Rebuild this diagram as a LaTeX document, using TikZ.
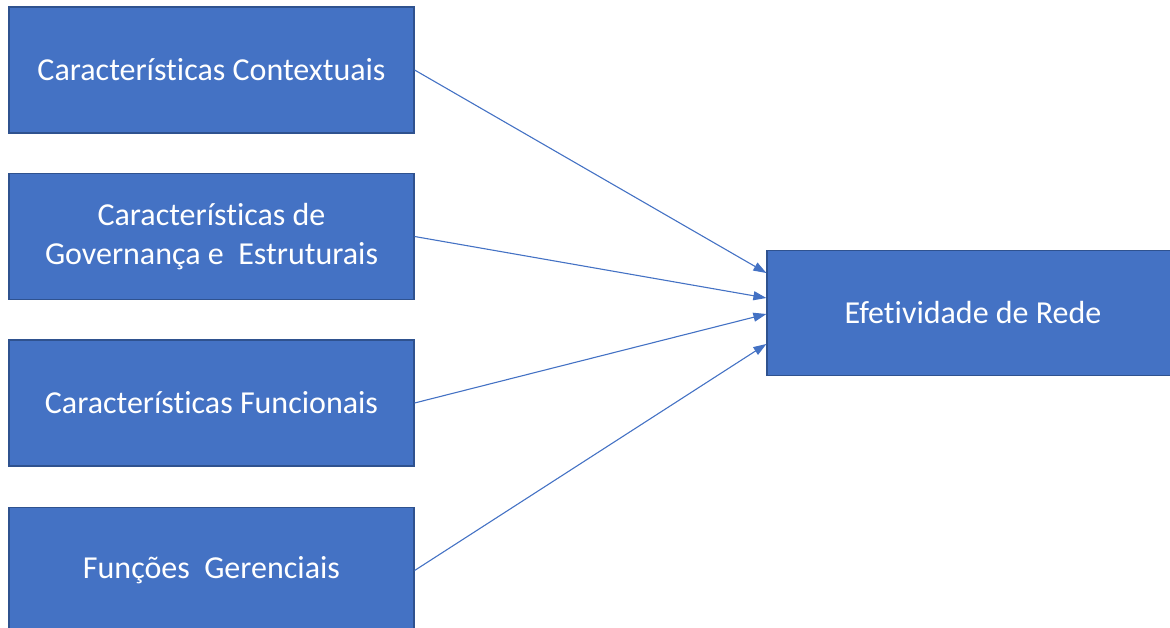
\documentclass[tikz,border=0pt]{standalone}
\usepackage{fontspec}
\setmainfont{Carlito}[Ligatures=NoCommon]
\usetikzlibrary{arrows.meta}
\definecolor{boxfill}{HTML}{4472C4}
\definecolor{boxline}{HTML}{2F528F}
\begin{document}
\begin{tikzpicture}[x=1pt,y=-1pt,
  factor/.style={draw=boxline, line width=1.2pt, fill=boxfill, text=white,
    minimum width=405pt, minimum height=126pt, inner sep=0pt, align=center,
    font=\fontsize{32}{39}\selectfont},
  link/.style={draw=boxfill, line width=1.1pt, -{Triangle[length=13pt,width=9pt]}}]
  \useasboundingbox (0,0) rectangle (1170,628);

  % factors on the left
  \node[factor] (ctx) at (211.5,70) {Características Contextuais};
  \node[factor] (gov) at (211.5,236.5) {Características de\\Governança e\ \ Estruturais};
  \node[factor] (fun) at (211.5,403) {Características Funcionais};
  \node[factor] (ger) at (211.5,570.5) {Funções\ \ Gerenciais};

  % outcome on the right
  \node[factor, minimum width=412pt, minimum height=125pt] (ef) at (973,312.75) {Efetividade de Rede};

  % influences
  \draw[link] (ctx.east) -- ([yshift=39.75pt]ef.west);
  \draw[link] (gov.east) -- ([yshift=14.75pt]ef.west);
  \draw[link] (fun.east) -- ([yshift=-1.25pt]ef.west);
  \draw[link] (ger.east) -- ([yshift=-31.25pt]ef.west);
\end{tikzpicture}
\end{document}
